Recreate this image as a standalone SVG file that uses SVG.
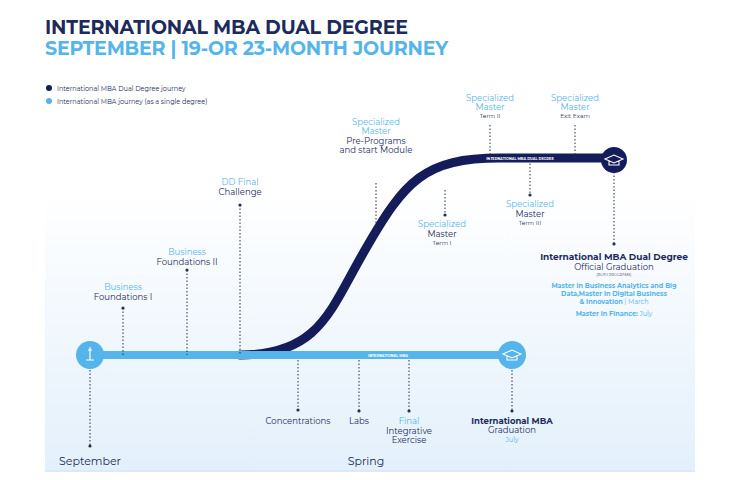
<svg xmlns="http://www.w3.org/2000/svg" width="740" height="480" viewBox="0 0 740 480">
<defs>
<linearGradient id="bg" x1="0" y1="0" x2="0" y2="1"><stop offset="0" stop-color="#ffffff"/><stop offset="1" stop-color="#e3f0fb"/></linearGradient>
<style>
text{font-family:Montserrat,"Open Sans","Liberation Sans",sans-serif;text-anchor:middle}
.t{fill:#1d2b5c;font-size:8.5px}
.b{fill:#55b5ea;font-size:8.5px}
.s{fill:#1d2b5c;font-size:6px}
.dot{stroke:#2a2f45;stroke-width:1;stroke-dasharray:1.5 2;fill:none}
.end{fill:#2a2f45}
</style>
</defs>
<rect width="740" height="480" fill="#fff"/>
<rect x="45" y="190" width="650" height="282" fill="url(#bg)"/>
<line x1="45" y1="471" x2="695" y2="471" stroke="#cfe3f5" stroke-width="1"/>
<text x="45" y="34" style="text-anchor:start;font-size:19px;font-weight:700;fill:#1d2b5c" textLength="363">INTERNATIONAL MBA DUAL DEGREE</text>
<text x="45" y="55" style="text-anchor:start;font-size:19px;font-weight:700;fill:#55b5ea" textLength="403">SEPTEMBER | 19-OR 23-MONTH JOURNEY</text>
<g id="legend">
<circle cx="49" cy="88" r="3" fill="#141c5a"/><text x="57" y="90.5" style="text-anchor:start;font-size:6.5px;fill:#1d2b5c">International MBA Dual Degree journey</text>
<circle cx="49" cy="101" r="3" fill="#55b5ea"/><text x="57" y="103.5" style="text-anchor:start;font-size:6.5px;fill:#1d2b5c">International MBA journey (as a single degree)</text>
</g>
<g id="connectors">
<path d="M240 355 C320 355 330 310 365 250 C405 180 425 158 500 158 L614 158" fill="none" stroke="#141c5a" stroke-width="9" stroke-linecap="round"/>
<line x1="90" y1="355" x2="512" y2="355" stroke="#55b5ea" stroke-width="8"/>
<text x="520" y="160" style="font-size:3.5px;fill:#fff;font-weight:700">INTERNATIONAL MBA DUAL DEGREE</text>
<text x="388" y="357" style="font-size:3.5px;fill:#fff;font-weight:700">INTERNATIONAL MBA</text>
<path class="dot" d="M123 308V355M187 270V355M240 205V355M376 183V235M445 190V215M490 125V158M575 125V158M530 160V195M614 172V244M298 360V410M359 360V411M409 360V411M512 370V411M90 370V446"/>
<g class="end"><circle cx="123" cy="308" r="1.6"/><circle cx="187" cy="270" r="1.6"/><circle cx="240" cy="205" r="1.6"/><circle cx="445" cy="215" r="1.6"/><circle cx="530" cy="195" r="1.6"/><circle cx="614" cy="244" r="1.6"/><circle cx="298" cy="410" r="1.6"/><circle cx="359" cy="411" r="1.6"/><circle cx="409" cy="411" r="1.6"/><circle cx="512" cy="411" r="1.6"/><circle cx="90" cy="446" r="1.6"/></g>
</g>
<g id="start"><circle cx="90" cy="355" r="14" fill="#55b5ea"/><path d="M90 347v13M86 360h8M88 350h4" stroke="#fff" stroke-width="1.2" fill="none"/></g>
<g id="mba-end"><circle cx="512" cy="355" r="14" fill="#55b5ea"/><path d="M503 354l9-4 9 4-9 4zM507 356v4h10v-4" stroke="#fff" stroke-width="1.1" fill="none"/></g>
<g id="dd-end"><circle cx="614" cy="160" r="13" fill="#141c5a"/><path d="M605 159l9-4 9 4-9 4zM609 161v4h10v-4" stroke="#fff" stroke-width="1.1" fill="none"/></g>
<g id="n-bf1"><text class="b" x="123" y="290">Business</text><text class="t" x="123" y="300">Foundations I</text></g>
<g id="n-bf2"><text class="b" x="187" y="255">Business</text><text class="t" x="187" y="265">Foundations II</text></g>
<g id="n-dd"><text class="b" x="240" y="185">DD Final</text><text class="t" x="240" y="195">Challenge</text></g>
<g id="n-pre"><text class="b" x="376" y="125">Specialized</text><text class="b" x="376" y="134">Master</text><text class="t" x="376" y="144">Pre-Programs</text><text class="t" x="376" y="153">and start Module</text></g>
<g id="n-t1"><text class="b" x="442" y="227">Specialized</text><text class="t" x="442" y="237">Master</text><text class="s" x="442" y="245">Term I</text></g>
<g id="n-t2"><text class="b" x="490" y="101">Specialized</text><text class="b" x="490" y="110">Master</text><text class="s" x="490" y="118">Term II</text></g>
<g id="n-exit"><text class="b" x="575" y="101">Specialized</text><text class="b" x="575" y="110">Master</text><text class="s" x="575" y="118">Exit Exam</text></g>
<g id="n-t3"><text class="b" x="530" y="207">Specialized</text><text class="t" x="530" y="217">Master</text><text class="s" x="530" y="225">Term III</text></g>
<g id="n-offgrad"><text x="614" y="260" style="font-size:9px;font-weight:700;fill:#1d2b5c">International MBA Dual Degree</text><text class="t" x="614" y="270">Official Graduation</text><text x="614" y="276" style="font-size:3.5px;fill:#1d2b5c">(BOTH PROGRAMS)</text><text x="614" y="288" style="font-size:6.5px;fill:#55b5ea;font-weight:700">Master in Business Analytics and Big</text><text x="614" y="296" style="font-size:6.5px;fill:#55b5ea;font-weight:700">Data,Master in Digital Business</text><text x="614" y="304" style="font-size:6.5px;fill:#55b5ea"><tspan font-weight="700">&amp; Innovation</tspan> | March</text><text x="614" y="316" style="font-size:6.5px;fill:#55b5ea"><tspan font-weight="700">Master in Finance:</tspan> July</text></g>
<g id="n-conc"><text class="t" x="298" y="424">Concentrations</text></g>
<g id="n-labs"><text class="t" x="359" y="424">Labs</text></g>
<g id="n-final"><text class="b" x="409" y="424">Final</text><text class="t" x="409" y="434">Integrative</text><text class="t" x="409" y="443">Exercise</text></g>
<g id="n-grad"><text x="512" y="424" style="font-size:8.5px;font-weight:700;fill:#1d2b5c">International MBA</text><text class="t" x="512" y="433">Graduation</text><text class="b" x="512" y="442" style="font-size:6.5px">July</text></g>
<g id="n-sep"><text x="90" y="465" style="font-size:11px;fill:#1d2b5c">September</text></g>
<g id="n-spring"><text x="366" y="465" style="font-size:11px;fill:#1d2b5c">Spring</text></g>
</svg>
